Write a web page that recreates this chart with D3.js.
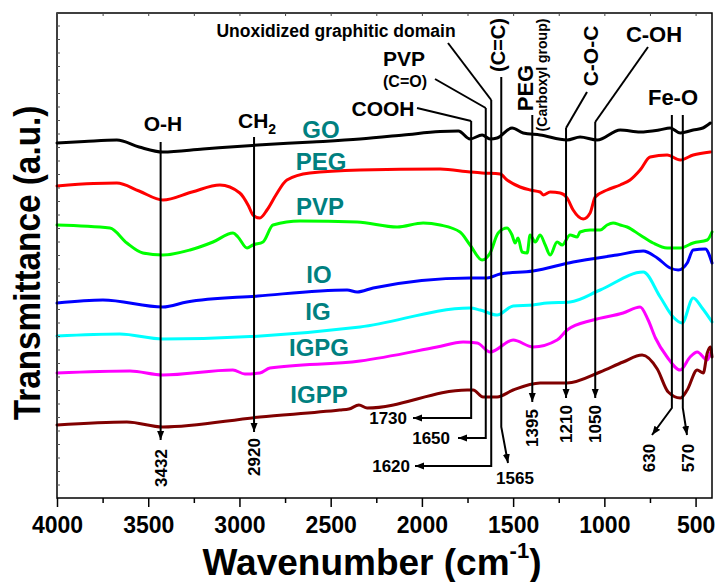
<!DOCTYPE html>
<html><head><meta charset="utf-8">
<script src="https://cdn.jsdelivr.net/npm/d3@7"></script>
<style>
body{margin:0;background:#fff;}
svg{display:block;}
text{font-family:'Liberation Sans',Arial,sans-serif;font-weight:bold;}
</style></head>
<body><svg id="c" width="716" height="582"></svg>
<script>
// ---------- data (wavenumber cm-1, transmittance a.u. with vertical offsets) ----------
const seriesNames = ["GO","PEG","PVP","IO","IG","IGPG","IGPP"];
const GO = [[4000,71.0],[3850,71.3],[3672,71.6],[3550,70.2],[3420,69.2],[3200,69.8],[2899,70.6],[2600,71.2],[2339,71.8],[2100,72.6],[1900,73.3],[1800,73.4],[1736,71.8],[1670,72.6],[1626,71.8],[1588,72.0],[1506,74.0],[1445,73.0],[1352,72.6],[1204,71.6],[1133,72.2],[1039,71.6],[913,73.6],[804,73.2],[700,73.6],[639,74.0],[584,73.0],[513,73.6],[460,74.0],[419,75.0]];
const PEG = [[4000,62.4],[3800,62.9],[3672,63.0],[3550,61.4],[3420,59.6],[3260,61.2],[3107,62.6],[2998,61.0],[2950,58.4],[2926,56.6],[2888,56.0],[2849,57.6],[2800,60.6],[2740,63.6],[2614,65.0],[2339,65.6],[1900,65.8],[1736,65.2],[1670,65.0],[1571,64.8],[1533,63.6],[1462,62.2],[1407,61.6],[1352,61.2],[1335,60.6],[1297,61.2],[1242,61.0],[1204,60.0],[1171,57.6],[1116,55.8],[1078,57.0],[1050,60.2],[985,61.6],[913,62.6],[859,63.6],[804,65.6],[749,68.2],[656,68.6],[584,67.6],[513,68.6],[419,69.2]];
const PVP = [[4000,54.6],[3710,54.0],[3617,51.0],[3529,49.0],[3420,48.6],[3271,49.6],[3145,51.2],[3035,53.0],[3008,52.2],[2958,50.0],[2926,50.6],[2871,51.2],[2816,54.6],[2668,55.4],[2355,55.2],[2136,54.2],[1993,55.0],[1900,54.6],[1791,53.2],[1736,50.6],[1670,47.6],[1626,49.0],[1582,53.0],[1533,54.0],[1506,52.6],[1489,51.0],[1473,52.0],[1451,49.2],[1423,49.0],[1407,52.6],[1379,51.2],[1352,52.6],[1324,50.6],[1297,48.6],[1259,51.2],[1231,50.6],[1188,52.6],[1149,52.2],[1133,53.2],[1078,53.6],[1023,53.6],[985,54.6],[952,55.0],[913,54.6],[875,54.2],[804,52.6],[733,51.0],[656,50.0],[584,50.0],[513,51.0],[436,51.6],[410,53.2]];
const IO = [[4000,39.0],[3748,39.6],[3420,38.2],[3288,39.2],[2899,40.4],[2410,41.6],[2355,41.2],[2267,42.0],[1736,44.0],[1643,44.0],[1571,44.8],[1391,45.4],[1171,47.2],[930,48.6],[787,49.4],[710,48.0],[639,46.0],[595,45.6],[546,47.0],[513,49.6],[447,49.8],[410,47.0]];
const IG = [[4000,32.4],[3656,32.8],[3420,31.8],[2339,34.2],[1736,38.0],[1681,37.6],[1588,36.6],[1500,38.4],[1391,38.6],[1314,39.0],[1188,39.2],[1023,41.6],[787,45.2],[694,40.2],[623,36.2],[574,35.0],[513,40.0],[464,38.0],[410,35.2]];
const IGPG = [[4000,25.0],[3600,25.4],[3420,24.6],[3036,25.6],[2970,24.8],[2888,25.0],[2833,26.0],[2339,27.4],[1917,30.2],[1774,31.2],[1697,31.0],[1626,29.2],[1500,31.6],[1391,30.2],[1259,31.6],[1204,33.6],[1062,35.6],[897,37.0],[804,38.2],[760,35.6],[720,32.0],[656,28.2],[584,25.6],[530,28.2],[491,29.2],[436,27.6],[419,29.0]];
const IGPP = [[4000,14.6],[3617,15.2],[3420,14.2],[2888,16.2],[2450,17.6],[2400,17.8],[2345,18.6],[2300,18.0],[1752,21.6],[1719,21.6],[1665,20.2],[1588,20.2],[1500,21.6],[1352,23.0],[1204,23.0],[1023,25.2],[897,27.2],[793,28.6],[710,25.8],[650,21.2],[584,20.0],[546,21.6],[491,25.6],[458,25.0],[436,29.0],[419,30.2],[410,28.2]];
const xTickValues = [4000,3500,3000,2500,2000,1500,1000,500];
const peakLabels = [3432,2920,1730,1650,1620,1565,1395,1210,1050,630,570];

// ---------- chart ----------
const svg = d3.select("#c");
const L=57, R=712, T=13, B=498;
const x = d3.scaleLinear().domain([4000,410]).range([L,R]);
const y = d3.scaleLinear().domain([0,97]).range([B,T]);
const colors = ["#000000","#ff0000","#00ff00","#0000ff","#00ffff","#ff00ff","#800000"];
const allSeries = [GO,PEG,PVP,IO,IG,IGPG,IGPP];

// defs: arrow
svg.append("defs").append("marker").attr("id","arr").attr("viewBox","0 -4 9 8")
  .attr("refX",9).attr("refY",0).attr("markerWidth",9).attr("markerHeight",8)
  .attr("markerUnits","userSpaceOnUse").attr("orient","auto")
  .append("path").attr("d","M0,-3.5L9,0L0,3.5Z").attr("fill","#000");

// curves
const line = d3.line().x(d=>x(d[0])).y(d=>y(d[1])).curve(d3.curveMonotoneX);
svg.append("g").selectAll("path").data(allSeries).join("path")
  .attr("d",line).attr("fill","none").attr("stroke",(d,i)=>colors[i])
  .attr("stroke-width",3).attr("stroke-linejoin","round").attr("stroke-linecap","round");

// frame
svg.append("rect").attr("x",L).attr("y",T).attr("width",R-L).attr("height",B-T)
  .attr("fill","none").attr("stroke","#000").attr("stroke-width",1.5);

// bottom axis
const gx = svg.append("g").attr("transform",`translate(0,${B})`)
  .call(d3.axisBottom(x).tickValues(xTickValues).tickSize(9).tickPadding(10).tickFormat(d3.format("d")));
gx.select(".domain").remove();
gx.selectAll("line").attr("stroke-width",1.5);
gx.selectAll("text").style("font-size","23px").style("font-family","'Liberation Sans',Arial,sans-serif").style("font-weight","bold");
const minorX = d3.range(3750,400,-500);
svg.append("g").attr("transform",`translate(0,${B})`)
  .call(d3.axisBottom(x).tickValues(minorX).tickSize(5).tickFormat(""))
  .call(g=>g.select(".domain").remove()).selectAll("line").attr("stroke-width",1.5);
// top ticks inward
svg.append("g").attr("transform",`translate(0,${T})`)
  .call(d3.axisTop(x).tickValues(d3.range(4000,400,-250)).tickSize(-3).tickFormat(""))
  .call(g=>g.select(".domain").remove()).selectAll("line").attr("stroke","#444");
// left ticks inward
svg.append("g").attr("transform",`translate(${L},0)`)
  .call(d3.axisLeft(y).tickValues(d3.range(2.7,97,2.7)).tickSize(-3).tickFormat(""))
  .call(g=>g.select(".domain").remove()).selectAll("line").attr("stroke","#555");

// axis titles
const xt = svg.append("text").attr("x",372).attr("y",575).attr("text-anchor","middle").style("font-size","37px");
xt.append("tspan").text("Wavenumber (cm");
xt.append("tspan").attr("dy",-17).style("font-size","22px").text("-1");
xt.append("tspan").attr("dy",17).text(")");
svg.append("text").attr("transform","translate(40,263) rotate(-90) scale(0.98,1.1)").attr("text-anchor","middle")
  .style("font-size","34px").text("Transmittance (a.u.)");

// series labels
const labelPos = [[321,138],[321,170],[320,215],[319,283],[318,320],[319,356],[319,403]];
svg.append("g").selectAll("text").data(seriesNames).join("text")
  .attr("x",(d,i)=>labelPos[i][0]).attr("y",(d,i)=>labelPos[i][1])
  .attr("text-anchor","middle").attr("fill","#008080").style("font-size","24px").text(d=>d);

// peak lines
const pk = {};
peakLabels.forEach(p=>pk[p]=x(p));
const layout = {
  3432:{pts:[[pk[3432],142],[pk[3432],440]], rot:[pk[3432],468]},
  2920:{pts:[[pk[2920],137],[pk[2920],432]], rot:[pk[2920],457]},
  1730:{pts:[[pk[1730],121],[pk[1730],418],[413,418]], hor:[407,418,"end"]},
  1650:{pts:[[pk[1650],108],[pk[1650],438],[458,438]], hor:[450,438,"end"]},
  1620:{pts:[[pk[1620],100],[pk[1620],466],[415,466]], hor:[410,466,"end"]},
  1565:{pts:[[pk[1565],77],[pk[1565],427],[508,463]], hor:[515,478,"middle"]},
  1395:{pts:[[pk[1395],115],[pk[1395],402]], rot:[pk[1395],428]},
  1210:{pts:[[pk[1210],128],[pk[1210],398]], rot:[pk[1210],424]},
  1050:{pts:[[pk[1050],122],[pk[1050],398]], rot:[pk[1050],424]},
  630:{pts:[[pk[630],115],[pk[630],408],[652,435]], rot:[649,458]},
  570:{pts:[[pk[570],115],[pk[570],408],[687,435]], rot:[688,458]}
};
const ga = svg.append("g");
peakLabels.forEach(p=>{
  const o = layout[p];
  ga.append("path").attr("d",d3.line()(o.pts)).attr("fill","none").attr("stroke","#000")
    .attr("stroke-width",2).attr("marker-end","url(#arr)");
  if(o.rot){
    ga.append("text").attr("transform",`translate(${o.rot[0]},${o.rot[1]}) rotate(-90)`)
      .attr("text-anchor","middle").attr("dy","0.35em").style("font-size","17px").text(p);
  } else {
    ga.append("text").attr("x",o.hor[0]).attr("y",o.hor[1]).attr("dy","0.35em")
      .attr("text-anchor",o.hor[2]).style("font-size","17px").text(p);
  }
});
// leaders
const leaders = [
  [[417,108],[pk[1730],121]],
  [[435,79],[pk[1650],108]],
  [[448,43],[pk[1620],100]],
  [[587,92],[pk[1210],128]],
  [[648,47],[pk[1050],122]]
];
leaders.forEach(l=>ga.append("path").attr("d",d3.line()(l)).attr("stroke","#000").attr("stroke-width",2));

// group labels
function txt(xx,yy,s,size,anchor,rot){
  const t = ga.append("text").style("font-size",size+"px").attr("text-anchor",anchor||"middle");
  if(rot) t.attr("transform",`translate(${xx},${yy}) rotate(-90)`); else t.attr("x",xx).attr("y",yy);
  t.text(s); return t;
}
txt(163,131,"O-H",21);
const ch = ga.append("text").attr("x",238).attr("y",128).style("font-size","21px");
ch.append("tspan").text("CH");
ch.append("tspan").attr("dy",6).style("font-size","14px").text("2");
txt(383,116,"COOH",21);
txt(404,66,"PVP",21);
txt(405,87,"(C=O)",16);
txt(336,37,"Unoxidized graphitic domain",17.5);
txt(505,45,"(C=C)",20,"middle",true);
txt(533,88,"PEG",22,"middle",true);
txt(547,75,"(Carboxyl group)",14,"middle",true);
txt(598,56,"C-O-C",21,"middle",true);
txt(654,42,"C-OH",22);
txt(673,105,"Fe-O",22);
</script></body></html>
